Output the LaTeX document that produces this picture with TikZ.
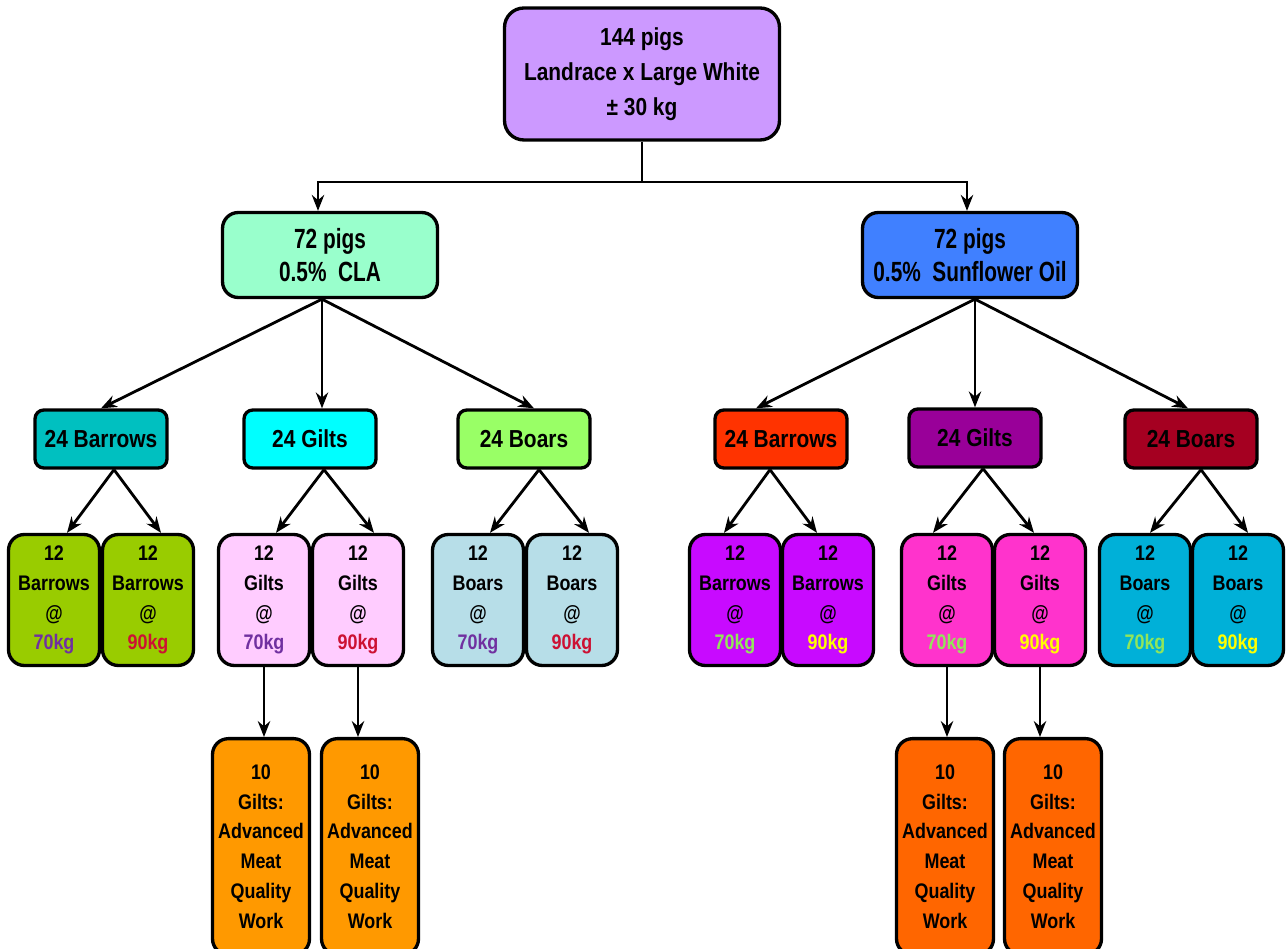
\documentclass[tikz,border=0pt]{standalone}
\usepackage{fontspec}
\setmainfont{Liberation Sans}[FakeStretch=0.85]
\newfontfamily\dietfont{Liberation Sans}[FakeStretch=0.75]
\usepackage{tikz}
\usetikzlibrary{arrows.meta,calc}
\definecolor{Lilac}{RGB}{204,153,255}
\definecolor{Mint}{RGB}{153,255,204}
\definecolor{Azure}{RGB}{64,128,255}
\definecolor{Teal}{RGB}{0,192,192}
\definecolor{Aqua}{RGB}{0,255,255}
\definecolor{Lime}{RGB}{153,255,102}
\definecolor{Vermil}{RGB}{255,51,0}
\definecolor{Plum}{RGB}{153,0,153}
\definecolor{Wine}{RGB}{165,0,33}
\definecolor{Olive}{RGB}{153,204,0}
\definecolor{Blush}{RGB}{255,204,255}
\definecolor{Ice}{RGB}{183,222,232}
\definecolor{Violet}{RGB}{200,10,255}
\definecolor{Rose}{RGB}{255,51,204}
\definecolor{Cyanblue}{RGB}{0,176,216}
\definecolor{Amber}{RGB}{255,153,0}
\definecolor{Pumpkin}{RGB}{255,102,0}
\definecolor{KgPurple}{RGB}{112,48,160}
\definecolor{KgRed}{RGB}{204,17,51}
\definecolor{KgGreen}{RGB}{146,230,90}
\definecolor{KgYellow}{RGB}{255,255,0}

\begin{document}
\begin{tikzpicture}[x=0.02cm, y=-0.02cm]
    \tikzstyle{box} = [draw, line width=1.9pt, align=center, inner sep=0pt]
    \tikzstyle{head} = [box, rounded corners=11pt, font=\fontsize{14}{19.8}\selectfont\bfseries]
    \tikzstyle{diet} = [box, rounded corners=9pt, minimum width=4.3cm, minimum height=1.7cm, font=\dietfont\fontsize{15.8}{19.2}\selectfont\bfseries]
    \tikzstyle{grp} = [box, rounded corners=5pt, minimum width=2.64cm, minimum height=1.16cm, font=\fontsize{14}{19.6}\selectfont\bfseries]
    \tikzstyle{sub} = [box, rounded corners=9pt, minimum width=1.82cm, minimum height=2.62cm, font=\fontsize{12}{17}\selectfont\bfseries]
    \tikzstyle{amq} = [box, rounded corners=9pt, anchor=north, minimum width=1.94cm, minimum height=4.32cm, font=\fontsize{12}{17}\selectfont\bfseries]
    \tikzstyle{arr} = [-{Stealth[length=9pt,width=7pt]}, line width=1.6pt]

    \useasboundingbox (0,0) rectangle (1286,949);

    % whole herd and the two diets
    \node[head, fill=Lilac, minimum width=5.5cm, minimum height=2.64cm] (herd) at (642,74) {144 pigs\\Landrace x Large White\\± 30 kg};
    \node[diet, fill=Mint] (cla) at (330,255) {72 pigs\\0.5\%\ \ CLA};
    \node[diet, fill=Azure] (sun) at (970,255) {72 pigs\\0.5\%\ \ Sunflower Oil};

    % sexes per diet
    \node[grp, fill=Teal] (clabar) at (101,439) {24 Barrows};
    \node[grp, fill=Aqua] (clagil) at (310,439) {24 Gilts};
    \node[grp, fill=Lime] (claboa) at (524,439) {24 Boars};
    \node[grp, fill=Vermil] (sunbar) at (781,439) {24 Barrows};
    \node[grp, fill=Plum] (sungil) at (975,438) {24 Gilts};
    \node[grp, fill=Wine] (sunboa) at (1191,439) {24 Boars};

    % slaughter weights
    \node[sub, fill=Olive] (clabar70) at (54,600) {12\\Barrows\\@\\\color{KgPurple}70kg};
    \node[sub, fill=Olive] (clabar90) at (148,600) {12\\Barrows\\@\\\color{KgRed}90kg};
    \node[sub, fill=Blush] (clagil70) at (264,600) {12\\Gilts\\@\\\color{KgPurple}70kg};
    \node[sub, fill=Blush] (clagil90) at (358,600) {12\\Gilts\\@\\\color{KgRed}90kg};
    \node[sub, fill=Ice] (claboa70) at (478,600) {12\\Boars\\@\\\color{KgPurple}70kg};
    \node[sub, fill=Ice] (claboa90) at (572,600) {12\\Boars\\@\\\color{KgRed}90kg};
    \node[sub, fill=Violet] (sunbar70) at (735,600) {12\\Barrows\\@\\\color{KgGreen}70kg};
    \node[sub, fill=Violet] (sunbar90) at (828,600) {12\\Barrows\\@\\\color{KgYellow}90kg};
    \node[sub, fill=Rose] (sungil70) at (947,600) {12\\Gilts\\@\\\color{KgGreen}70kg};
    \node[sub, fill=Rose] (sungil90) at (1040,600) {12\\Gilts\\@\\\color{KgYellow}90kg};
    \node[sub, fill=Cyanblue] (sunboa70) at (1145,600) {12\\Boars\\@\\\color{KgGreen}70kg};
    \node[sub, fill=Cyanblue] (sunboa90) at (1238,600) {12\\Boars\\@\\\color{KgYellow}90kg};

    % meat quality groups
    \node[amq, fill=Amber] (claamq70) at (261,737) {10\\Gilts:\\Advanced\\Meat\\Quality\\Work};
    \node[amq, fill=Amber] (claamq90) at (370,737) {10\\Gilts:\\Advanced\\Meat\\Quality\\Work};
    \node[amq, fill=Pumpkin] (sunamq70) at (945,737) {10\\Gilts:\\Advanced\\Meat\\Quality\\Work};
    \node[amq, fill=Pumpkin] (sunamq90) at (1053,737) {10\\Gilts:\\Advanced\\Meat\\Quality\\Work};

    \coordinate (fork) at (642,182);
    \draw[line width=1.6pt] (herd.south) -- (fork);
    \draw[arr] (fork) -| ($(cla.north)+(-12,0)$);
    \draw[arr] (fork) -| ($(sun.north)+(-3,0)$);

    \draw[arr] ($(cla.south)+(-8,0)$) -- (clabar.north);
    \draw[arr] ($(cla.south)+(-8,0)$) -- ($(clagil.north)+(12,0)$);
    \draw[arr] ($(cla.south)+(-8,0)$) -- ($(claboa.north)+(10,0)$);
    \draw[arr] ($(sun.south)+(5,0)$) -- ($(sunbar.north)+(-25,0)$);
    \draw[arr] ($(sun.south)+(5,0)$) -- (sungil.north);
    \draw[arr] ($(sun.south)+(5,0)$) -- ($(sunboa.north)+(-3,0)$);

    \draw[arr] ($(clabar.south)+(13,0)$) -- ($(clabar70.north)+(13,0)$);
    \draw[arr] ($(clabar.south)+(13,0)$) -- ($(clabar90.north)+(13,0)$);
    \draw[arr] ($(clagil.south)+(14,0)$) -- ($(clagil70.north)+(12,0)$);
    \draw[arr] ($(clagil.south)+(14,0)$) -- ($(clagil90.north)+(16,0)$);
    \draw[arr] ($(claboa.south)+(15,0)$) -- ($(claboa70.north)+(12,0)$);
    \draw[arr] ($(claboa.south)+(15,0)$) -- ($(claboa90.north)+(17,0)$);
    \draw[arr] ($(sunbar.south)+(-11,0)$) -- ($(sunbar70.north)+(-11,0)$);
    \draw[arr] ($(sunbar.south)+(-11,0)$) -- ($(sunbar90.north)+(-11,0)$);
    \draw[arr] ($(sungil.south)+(8,0)$) -- ($(sungil70.north)+(-14,0)$);
    \draw[arr] ($(sungil.south)+(8,0)$) -- ($(sungil90.north)+(-6,0)$);
    \draw[arr] ($(sunboa.south)+(10,0)$) -- ($(sunboa70.north)+(5,0)$);
    \draw[arr] ($(sunboa.south)+(10,0)$) -- ($(sunboa90.north)+(10,0)$);

    \draw[arr] (clagil70.south) -- (clagil70.south |- claamq70.north);
    \draw[arr] (clagil90.south) -- (clagil90.south |- claamq90.north);
    \draw[arr] (sungil70.south) -- (sungil70.south |- sunamq70.north);
    \draw[arr] (sungil90.south) -- (sungil90.south |- sunamq90.north);
\end{tikzpicture}
\end{document}
